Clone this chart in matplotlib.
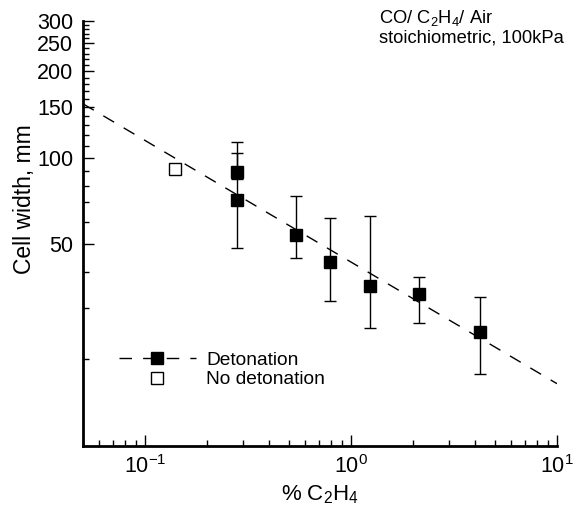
import matplotlib
matplotlib.use("Agg")
import matplotlib.pyplot as plt
from matplotlib.ticker import FixedLocator, FixedFormatter, LogLocator, NullFormatter

plt.rcParams['font.family'] = ['Liberation Sans', 'DejaVu Sans']
plt.rcParams['mathtext.fontset'] = 'custom'
plt.rcParams['mathtext.rm'] = 'Liberation Sans'
plt.rcParams['mathtext.it'] = 'Liberation Sans:italic'
plt.rcParams['mathtext.bf'] = 'Liberation Sans:bold'
plt.rcParams['mathtext.default'] = 'regular'
plt.rcParams['axes.unicode_minus'] = False

# ---- data ----
x_det = [0.28, 0.28, 0.54, 0.79, 1.24, 2.15, 4.23]
y_det = [89.6, 71.5, 53.9, 43.4, 35.8, 33.5, 24.9]
y_err_low = [84.7, 48.6, 44.7, 31.7, 25.7, 26.7, 17.7]
y_err_high = [103.9, 113.7, 73.7, 61.7, 62.7, 38.5, 32.7]

x_nodet = [0.14]
y_nodet = [91.7]

fit_x = [0.05, 10.0]
fit_y = [154.0, 16.4]

y_major = [50, 100, 150, 200, 250, 300]
y_major_labels = ['50', '100', '150', '200', '250', '300']
y_minor = [v for v in range(20, 301, 10) if v not in y_major]

fig = plt.figure(figsize=(5.73, 5.14), dpi=100)
ax = fig.add_axes([83/573, 1 - 445.5/514, 474/573, 425/514])

fit_line, = ax.plot(fit_x, fit_y, color='black', lw=1.0, ls=(0, (9, 8)))

lower = [y - l for y, l in zip(y_det, y_err_low)]
upper = [h - y for y, h in zip(y_det, y_err_high)]
ax.errorbar(x_det, y_det, yerr=[lower, upper], fmt='none', ecolor='black',
            elinewidth=1.0, capsize=4.3, capthick=1.0)
det_pts, = ax.plot(x_det, y_det, ls='none', marker='s', ms=8, mfc='black', mec='black')
nodet_pts, = ax.plot(x_nodet, y_nodet, ls='none', marker='s', ms=8, mfc='white',
                     mec='black', mew=1.0)

ax.set_xscale('log')
ax.set_yscale('log')
ax.set_xlim(0.05, 10)
ax.set_ylim(10, 300)

ax.yaxis.set_major_locator(FixedLocator(y_major))
ax.yaxis.set_major_formatter(FixedFormatter(y_major_labels))
ax.yaxis.set_minor_locator(FixedLocator(y_minor))
ax.yaxis.set_minor_formatter(NullFormatter())

ax.xaxis.set_major_locator(LogLocator(base=10, numticks=10))
ax.xaxis.set_minor_locator(LogLocator(base=10, subs=range(2, 10), numticks=10))
ax.xaxis.set_minor_formatter(NullFormatter())

for s in ['top', 'right']:
    ax.spines[s].set_visible(False)
for s in ['left', 'bottom']:
    ax.spines[s].set_linewidth(2.0)

ax.tick_params(which='major', direction='in', length=8, width=1.0, labelsize=15.5, pad=7)
ax.tick_params(which='minor', direction='in', length=4.3, width=1.0)

ax.set_xlabel('% C$_2$H$_4$', fontsize=16, labelpad=4)
ax.set_ylabel('Cell width, mm', fontsize=16.5)
ax.yaxis.set_label_coords(-0.1, 0.58)

fig.text(379/573, 1 - 8/514, 'CO/ C$_2$H$_4$/ Air\nstoichiometric, 100kPa',
         fontsize=13.2, va='top', ha='left', linespacing=1.1)

leg = ax.legend([(fit_line, det_pts), nodet_pts], ['Detonation', 'No detonation'],
                loc='upper left', bbox_to_anchor=(0.076, 0.221), frameon=False,
                fontsize=13.8, handlelength=4.0, handletextpad=0.55, numpoints=1,
                borderpad=0, borderaxespad=0, labelspacing=0.1)

fig.savefig('out.png', dpi=100)
